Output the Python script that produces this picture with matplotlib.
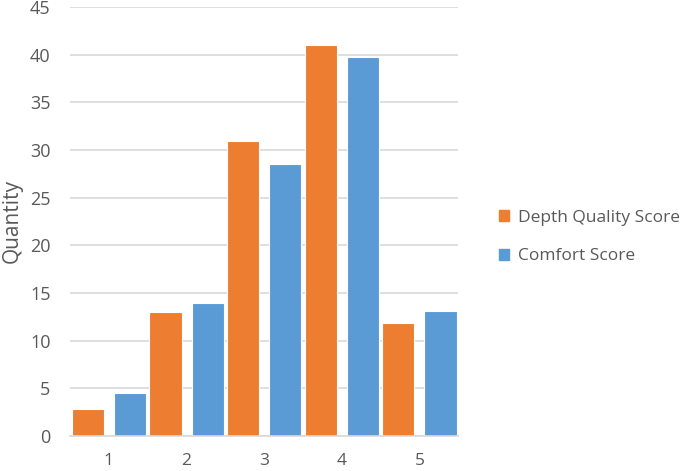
import numpy as np
import matplotlib.pyplot as plt
from matplotlib.patches import Patch

plt.rcParams['font.family'] = ['Open Sans', 'DejaVu Sans']

# data
scores = ['1', '2', '3', '4', '5']
depth_quality = [2.8, 13.0, 30.9, 41.0, 11.9]
comfort = [4.5, 13.9, 28.5, 39.7, 13.1]

orange = '#ED7D31'
blue = '#5B9BD5'
grey_txt = '#595959'

fig = plt.figure(figsize=(6.85, 4.71), dpi=100)
ax = fig.add_axes([0.102, 0.0743, 0.567, 0.911])

x = np.arange(1, len(scores) + 1)
w = 0.413
off = 0.271
ax.bar(x - off, depth_quality, width=w, color=orange, edgecolor='white', linewidth=0.8, zorder=3)
ax.bar(x + off, comfort, width=w, color=blue, edgecolor='white', linewidth=0.8, zorder=3)

ax.set_xlim(0.497, 5.5)
ax.set_ylim(0, 45)
ax.set_yticks(range(0, 46, 5))
ax.set_xticks(x)
ax.set_xticklabels(scores)

ax.grid(axis='y', color='#D9D9D9', linewidth=1.2, zorder=0)
for s in ['top', 'right', 'left']:
    ax.spines[s].set_visible(False)
ax.spines['bottom'].set_color('#D9D9D9')
ax.spines['bottom'].set_linewidth(1.2)
ax.spines['bottom'].set_zorder(4)

ax.tick_params(axis='x', length=0, pad=12, labelsize=12.5, labelcolor=grey_txt)
ax.tick_params(axis='y', length=0, pad=14, labelsize=13, labelcolor=grey_txt)

ax.set_ylabel('Quantity', fontsize=15, color=grey_txt)
ax.yaxis.set_label_coords(-0.122, 0.5)

handles = [Patch(color=orange, label='Depth Quality Score'),
           Patch(color=blue, label='Comfort Score')]
fig.legend(handles=handles, loc='center left', bbox_to_anchor=(0.705, 0.497),
           frameon=False, fontsize=12.5, labelcolor=grey_txt,
           handlelength=0.6, handleheight=0.6, handletextpad=0.5, labelspacing=1.3)

fig.savefig('out.png', dpi=100)
